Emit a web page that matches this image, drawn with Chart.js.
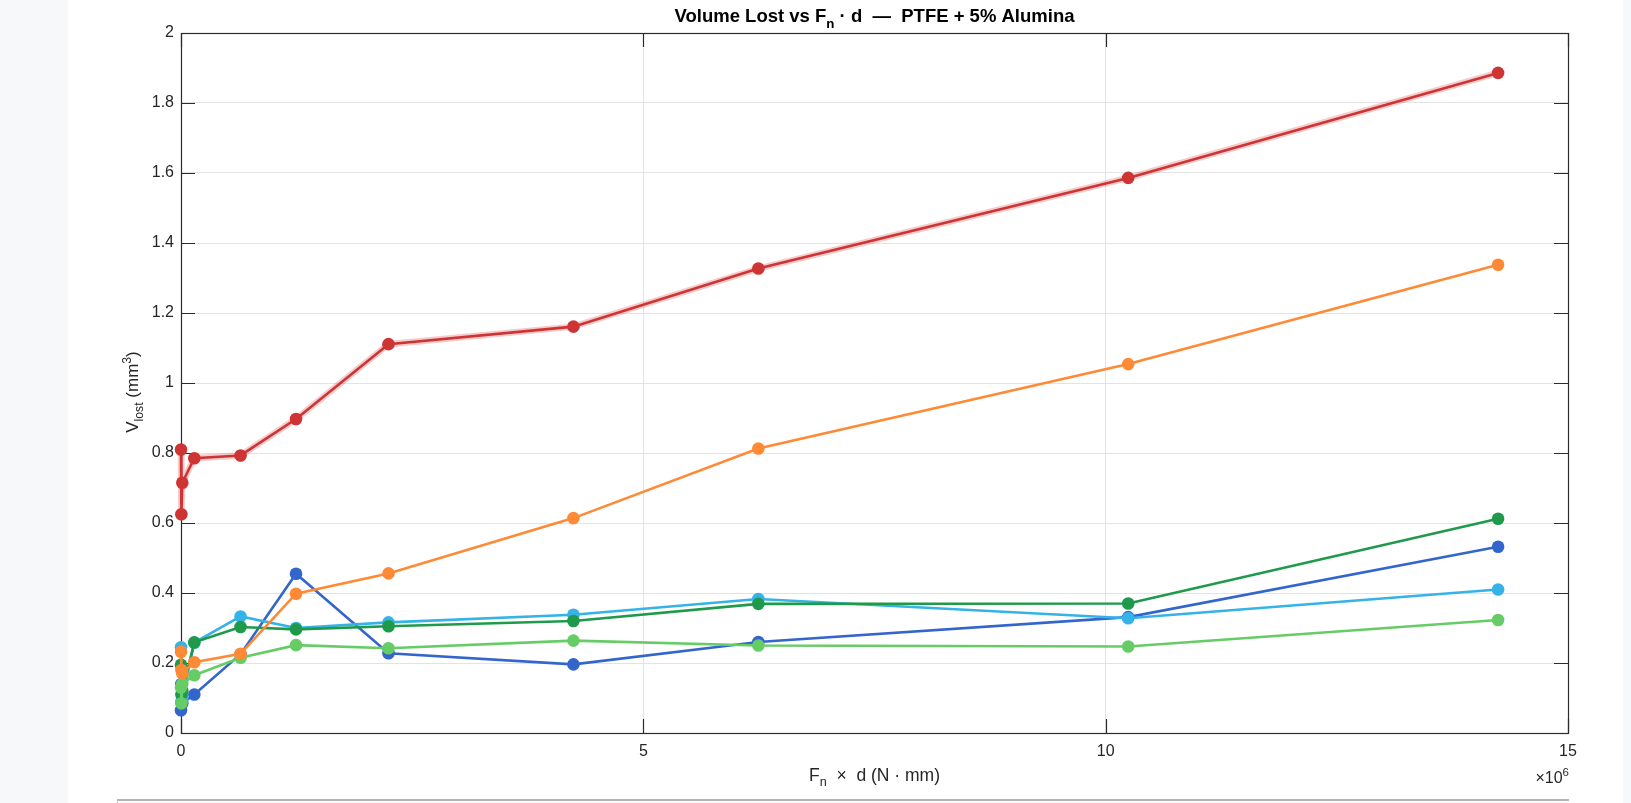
<!DOCTYPE html>
<html>
<head>
<meta charset="utf-8">
<script src="https://cdn.jsdelivr.net/npm/chart.js@4.4.1/dist/chart.umd.min.js"></script>
<style>
  html, body { margin: 0; padding: 0; }
  body {
    width: 1631px; height: 803px; overflow: hidden; position: relative;
    background: linear-gradient(to right, #f6f8fa 0, #f6f8fa 68px, #ffffff 68px, #ffffff 1623px, #f6f8fa 1623px);
  }
  #wrap { position: absolute; left: 0; top: 0; width: 1631px; height: 803px; }
  #bottomBox {
    position: absolute; left: 117px; top: 799px; width: 1451px; height: 10px;
    border-top: 2px solid #b4b4b4; border-left: 1px solid #c8c8c8; background: #fbfbfb;
  }
</style>
</head>
<body>
<div id="wrap"><canvas id="chart" width="1631" height="803"></canvas></div>
<div id="bottomBox"></div>
<script>
// Fn * d values (N*mm), shared by every series
const fnd = [0, 4e3, 1.4e4, 1.44e5, 6.44e5, 1.244e6, 2.244e6, 4.244e6, 6.244e6, 10.244e6, 14.244e6];

// Volume lost (mm^3), one array per run
const redRun    = [0.81, 0.625, 0.715, 0.785, 0.793, 0.897, 1.111, 1.161, 1.327, 1.586, 1.886];
const orangeRun = [0.232, 0.18, 0.17, 0.202, 0.226, 0.398, 0.456, 0.614, 0.813, 1.054, 1.338];
const dGreenRun = [0.195, 0.11, 0.12, 0.259, 0.303, 0.296, 0.305, 0.32, 0.369, 0.37, 0.612];
const blueRun   = [0.065, 0.14, 0.085, 0.11, 0.225, 0.455, 0.228, 0.196, 0.26, 0.331, 0.532];
const cyanRun   = [0.245, 0.09, 0.1, 0.258, 0.333, 0.3, 0.316, 0.338, 0.383, 0.328, 0.41];
const lGreenRun = [0.13, 0.085, 0.14, 0.165, 0.215, 0.251, 0.242, 0.264, 0.25, 0.247, 0.323];

const xTicks = [0, 5e6, 10e6, 15e6];
const yTicks = [0, 0.2, 0.4, 0.6, 0.8, 1, 1.2, 1.4, 1.6, 1.8, 2];

const FONT = '"Liberation Sans", Arial, Helvetica, sans-serif';

const pts = arr => arr.map((v, i) => ({ x: fnd[i], y: v }));

const series = (vals, color) => ({
    data: pts(vals),
    borderColor: color,
    backgroundColor: color,
    borderWidth: 2.6,
    pointRadius: 6.3,
    pointHoverRadius: 6.3,
    pointBorderWidth: 0,
    tension: 0,
    clip: false
});

// draws text with sub/superscript pieces
function drawRich(ctx, segs, x, y, size, weight, align) {
    const fontFor = s => `${weight} ${s.sub || s.sup ? size * 0.72 : size}px ${FONT}`;
    let total = 0;
    segs.forEach(s => { ctx.font = fontFor(s); s.w = ctx.measureText(s.t).width; total += s.w; });
    let cx = align === 'center' ? x - total / 2 : align === 'right' ? x - total : x;
    ctx.textAlign = 'left';
    ctx.textBaseline = 'alphabetic';
    segs.forEach(s => {
        ctx.font = fontFor(s);
        let dy = s.sub ? size * 0.3 : s.sup ? -size * 0.42 : 0;
        ctx.fillText(s.t, cx, y + dy);
        cx += s.w;
    });
}

const matlabAxes = {
    id: 'matlabAxes',
    beforeDatasetsDraw(chart) {
        const { ctx, chartArea: a, scales } = chart;
        ctx.save();
        ctx.strokeStyle = '#2b2b2b';
        ctx.lineWidth = 1.2;
        ctx.strokeRect(a.left + 0.5, a.top + 0.5, a.right - a.left, a.bottom - a.top);
        const tl = 14;
        ctx.beginPath();
        xTicks.forEach(v => {
            const px = Math.round(scales.x.getPixelForValue(v)) + 0.5;
            ctx.moveTo(px, a.bottom); ctx.lineTo(px, a.bottom - tl);
            ctx.moveTo(px, a.top); ctx.lineTo(px, a.top + tl);
        });
        yTicks.forEach(v => {
            const py = Math.round(scales.y.getPixelForValue(v)) + 0.5;
            ctx.moveTo(a.left, py); ctx.lineTo(a.left + tl, py);
            ctx.moveTo(a.right, py); ctx.lineTo(a.right - tl, py);
        });
        ctx.stroke();
        ctx.restore();
    },
    afterDraw(chart) {
        const { ctx, chartArea: a } = chart;
        const mid = (a.left + a.right) / 2;
        ctx.save();
        ctx.fillStyle = '#000000';
        drawRich(ctx, [
            { t: 'Volume Lost vs F' }, { t: 'n', sub: true },
            { t: ' \u00B7 d  \u2014  PTFE + 5% Alumina' }
        ], mid, 22, 18.5, 'bold', 'center');

        ctx.fillStyle = '#262626';
        drawRich(ctx, [
            { t: 'F' }, { t: 'n', sub: true }, { t: '  \u00D7  d (N \u00B7 mm)' }
        ], mid, 781, 17.5, 'normal', 'center');

        drawRich(ctx, [{ t: '\u00D710' }, { t: '6', sup: true }], a.right + 1, 783, 16, 'normal', 'right');

        ctx.translate(138, 392);
        ctx.rotate(-Math.PI / 2);
        drawRich(ctx, [
            { t: 'V' }, { t: 'lost', sub: true }, { t: ' (mm' }, { t: '3', sup: true }, { t: ')' }
        ], 0, 0, 17, 'normal', 'center');
        ctx.restore();
    }
};

const redHalo = {
    data: pts(redRun),
    borderColor: 'rgba(210, 50, 50, 0.25)',
    borderWidth: 6.5,
    pointRadius: 0,
    tension: 0,
    clip: false
};

new Chart(document.getElementById('chart'), {
    type: 'line',
    data: {
        datasets: [
            series(redRun, '#cf3434'),
            redHalo,
            series(orangeRun, '#ff8a36'),
            series(lGreenRun, '#66cc66'),
            series(dGreenRun, '#1f9a4b'),
            series(cyanRun, '#35b3e6'),
            series(blueRun, '#3366cc')
        ]
    },
    options: {
        responsive: false,
        animation: false,
        events: [],
        layout: { padding: { top: 33, left: 0, right: 63, bottom: 0 } },
        plugins: { legend: { display: false }, tooltip: { enabled: false }, title: { display: false } },
        scales: {
            x: {
                type: 'linear',
                min: 0, max: 15e6,
                afterFit: s => { s.height = 70; },
                afterBuildTicks: s => { s.ticks = xTicks.map(v => ({ value: v })); },
                grid: { color: '#e3e3e3', lineWidth: 1, drawTicks: false },
                border: { display: false },
                ticks: {
                    padding: 9,
                    color: '#262626',
                    font: { family: FONT, size: 16 },
                    callback: v => String(v / 1e6)
                }
            },
            y: {
                type: 'linear',
                min: 0, max: 2,
                afterFit: s => { s.width = 181; },
                afterBuildTicks: s => { s.ticks = yTicks.map(v => ({ value: v })); },
                grid: { color: '#e3e3e3', lineWidth: 1, drawTicks: false },
                border: { display: false },
                ticks: {
                    padding: 7,
                    color: '#262626',
                    font: { family: FONT, size: 16 },
                    callback: v => String(Number(v.toFixed(1)))
                }
            }
        }
    },
    plugins: [matlabAxes]
});
</script>
</body>
</html>
